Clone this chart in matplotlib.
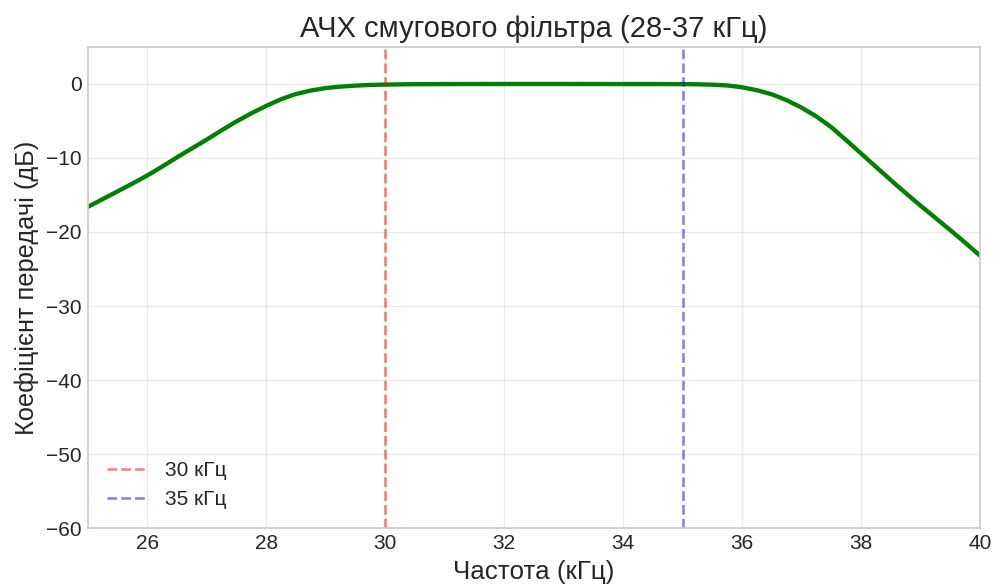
import numpy as np
import matplotlib
matplotlib.use('Agg')
import matplotlib.pyplot as plt

plt.style.use('seaborn-v0_8-whitegrid')
plt.rcParams['font.family'] = ['Liberation Sans', 'DejaVu Sans']

# frequency (kHz) and gain (dB)
freq = [25.0, 25.25, 25.5, 25.75, 26.0, 26.25, 26.5, 26.75, 27.0, 27.25,
        27.5, 27.75, 28.0, 28.25, 28.5, 28.75, 29.0, 29.25, 29.5, 29.75,
        30.0, 30.5, 31.0, 32.0, 33.0, 34.0, 34.5, 35.0, 35.25, 35.5,
        35.75, 36.0, 36.25, 36.5, 36.75, 37.0, 37.25, 37.5, 37.75, 38.0,
        38.25, 38.5, 38.75, 39.0, 39.25, 39.5, 39.75, 40.0]
gain = [-16.6, -15.55, -14.5, -13.45, -12.35, -11.15, -9.9, -8.7, -7.5, -6.25,
        -5.05, -3.95, -2.95, -2.05, -1.35, -0.88, -0.55, -0.35, -0.22, -0.13,
        -0.08, -0.03, -0.01, 0.0, 0.0, -0.01, -0.01, -0.02, -0.04, -0.1,
        -0.2, -0.45, -0.85, -1.4, -2.2, -3.2, -4.4, -5.85, -7.6, -9.4,
        -11.2, -13.0, -14.75, -16.45, -18.1, -19.75, -21.45, -23.2]

f_low = 30
f_high = 35

fig = plt.figure(figsize=(7.96, 4.68), dpi=125)
ax = fig.add_axes([0.0884, 0.0974, 0.8966, 0.8223])

ax.plot(freq, gain, color='green', lw=2.5)
ax.axvline(f_low, color='r', ls='--', alpha=0.5, lw=1.5, label='30 кГц')
ax.axvline(f_high, color='b', ls='--', alpha=0.5, lw=1.5, label='35 кГц')

ax.set_xlim(25, 40)
ax.set_ylim(-60, 5)
ax.set_title('АЧХ смугового фільтра (28-37 кГц)', fontsize=16.8)
ax.set_xlabel('Частота (кГц)', fontsize=15)
ax.set_ylabel('Коефіцієнт передачі (дБ)', fontsize=14.6)
ax.tick_params(labelsize=12)
ax.grid(True, alpha=0.4)
ax.legend(loc='lower left', fontsize=12)

fig.savefig('out.png', dpi=125)
